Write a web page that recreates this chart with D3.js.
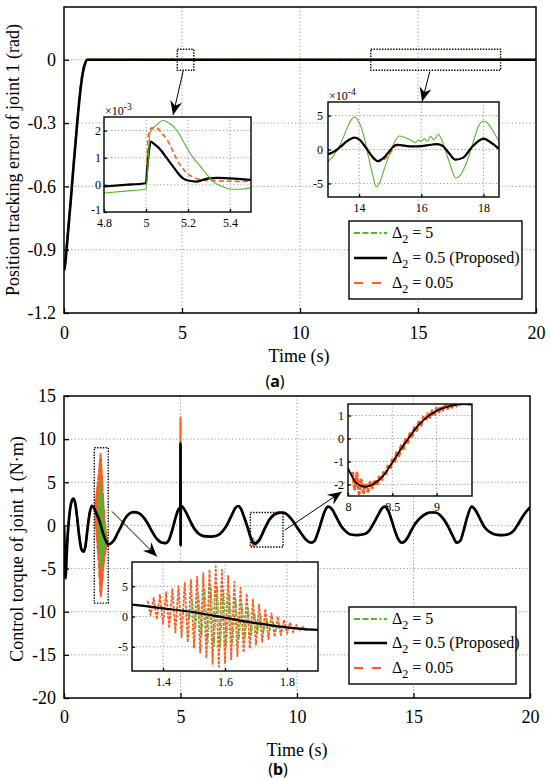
<!DOCTYPE html>
<html><head><meta charset="utf-8">
<script src="https://cdn.jsdelivr.net/npm/d3@7/dist/d3.min.js"></script>
<style>body{margin:0;background:#fff} svg text{font-family:"Liberation Serif","Tinos","Times New Roman","DejaVu Serif",serif;}</style>
</head><body>
<svg id="c" width="550" height="779" xmlns="http://www.w3.org/2000/svg"></svg>
<script>
// ---------------- DATA ----------------
const timeTicks = [0, 5, 10, 15, 20];
const errTicks = [0, -0.3, -0.6, -0.9, -1.2];
const torqueTicks = [15, 10, 5, 0, -5, -10, -15, -20];
const legendLabels = [["5", "green"], ["0.5 (Proposed)", "black"], ["0.05", "red"]];

// (a) main: position tracking error of joint 1 (rad)
const errBlack = [[0,-1.0],[0.05,-0.97],[0.1,-0.91],[0.2,-0.78],[0.3,-0.65],[0.4,-0.51],[0.5,-0.38],[0.6,-0.25],[0.7,-0.14],[0.8,-0.06],[0.9,-0.015],[1.0,0],[1.2,0],[20,0]];
const errGreen = [[0,-0.99],[0.05,-0.95],[0.1,-0.89],[0.2,-0.76],[0.3,-0.63],[0.4,-0.5],[0.5,-0.37],[0.6,-0.24],[0.7,-0.13],[0.8,-0.05],[0.9,-0.01],[1.0,0.002],[1.2,0.004],[1.5,0.001],[20,0]];
const errRed = [[0,-1.0],[0.05,-0.965],[0.1,-0.905],[0.2,-0.775],[0.3,-0.645],[0.4,-0.505],[0.5,-0.375],[0.6,-0.245],[0.7,-0.135],[0.8,-0.055],[0.9,-0.012],[1.0,0.001],[1.2,0],[20,0]];

// (a) inset 1, x10^-3, t in [4.8, 5.5]
const zoomA1Black = [[4.8,-0.06],[4.9,0.0],[5.0,0.06],[5.006,0.6],[5.015,1.3],[5.022,1.59],[5.04,1.5],[5.067,1.31],[5.09,1.08],[5.114,0.83],[5.14,0.56],[5.162,0.34],[5.18,0.22],[5.2,0.16],[5.24,0.12],[5.27,0.18],[5.3,0.24],[5.34,0.26],[5.38,0.25],[5.44,0.22],[5.5,0.18]];
const zoomA1Green = [[4.8,-0.3],[4.9,-0.23],[5.0,-0.15],[5.008,0.6],[5.02,1.92],[5.05,2.2],[5.08,2.37],[5.1,2.32],[5.13,2.16],[5.16,1.85],[5.19,1.43],[5.22,1.05],[5.257,0.7],[5.29,0.38],[5.32,0.12],[5.36,-0.05],[5.4,-0.15],[5.45,-0.16],[5.49,-0.12],[5.5,-0.1]];
const zoomA1Red = [[4.8,-0.06],[4.9,0.0],[5.0,0.06],[5.01,1.8],[5.027,2.1],[5.05,2.1],[5.075,1.9],[5.1,1.67],[5.125,1.3],[5.146,0.95],[5.17,0.65],[5.2,0.4],[5.23,0.27],[5.257,0.2],[5.33,0.15],[5.42,0.13],[5.5,0.12]];

// (a) inset 2, x10^-4, t in [13, 18.5]
const zoomA2Green = [[13.0,-1.8],[13.2,-0.8],[13.4,0.8],[13.6,3.0],[13.75,4.4],[13.85,4.8],[14.0,4.0],[14.15,2.0],[14.3,-1.0],[14.45,-4.0],[14.55,-5.5],[14.65,-5.0],[14.8,-3.0],[15.0,-0.5],[15.15,1.2],[15.3,2.0],[15.5,1.7],[15.7,1.3],[15.8,1.0],[15.9,1.4],[16.0,1.2],[16.1,1.6],[16.2,1.2],[16.3,2.0],[16.4,1.4],[16.55,2.2],[16.65,1.5],[16.8,-0.5],[16.95,-2.5],[17.1,-4.2],[17.25,-3.8],[17.45,-2.0],[17.65,0.8],[17.85,3.5],[18.0,4.2],[18.15,3.8],[18.3,2.8],[18.5,1.2]];
const zoomA2Black = [[13.0,-0.7],[13.2,-0.3],[13.4,0.4],[13.6,1.2],[13.85,1.75],[14.0,1.5],[14.2,0.4],[14.4,-0.9],[14.6,-1.7],[14.8,-1.2],[15.0,-0.1],[15.2,0.7],[15.4,0.6],[15.7,0.45],[16.0,0.5],[16.3,0.7],[16.5,0.8],[16.7,0.5],[16.9,-0.6],[17.1,-1.5],[17.35,-1.2],[17.6,0.2],[17.8,1.1],[18.0,1.6],[18.25,1.0],[18.5,0.1]];
const zoomA2Red = [[13.0,-0.75],[13.2,-0.4],[13.4,0.3],[13.6,1.1],[13.85,1.7],[14.0,1.45],[14.2,0.35],[14.4,-1.0],[14.6,-1.75],[14.8,-1.5],[15.0,-0.5],[15.2,0.55],[15.4,0.6],[15.7,0.45],[16.0,0.5],[16.3,0.7],[16.5,0.8],[16.7,0.5],[16.9,-0.6],[17.1,-1.5],[17.35,-1.2],[17.6,0.2],[17.8,1.1],[18.0,1.6],[18.25,1.0],[18.5,0.1]];

// (b) main: control torque of joint 1 (N·m), proposed controller
const torqueBlack = [[0,0],[0.03,-3.5],[0.07,-6.1],[0.1,-4.2],[0.15,-1.5],[0.22,0.9],[0.3,2.5],[0.4,3.1],[0.48,2.6],[0.56,1.0],[0.65,-1.2],[0.75,-2.8],[0.83,-3.05],[0.92,-2.4],[1.0,-0.6],[1.1,1.4],[1.2,2.28],[1.3,1.95],[1.4,1.35],[1.5,0.7],[1.6,-0.2],[1.7,-1.1],[1.8,-1.8],[1.9,-2.2],[2.0,-2.1],[2.15,-1.7],[2.3,-0.9],[2.45,-0.1],[2.6,0.7],[2.8,1.35],[3.0,1.55],[3.2,1.45],[3.4,1.0],[3.6,0.2],[3.8,-0.8],[4.0,-1.6],[4.2,-2.0],[4.36,-2.05],[4.5,-1.7],[4.65,-0.5],[4.8,1.0],[4.9,1.8],[4.995,2.15],[5.0,9.5],[5.006,-2.3],[5.012,2.15],[5.05,2.2],[5.2,1.7],[5.4,0.6],[5.6,-0.4],[5.8,-1.0],[6.0,-1.25],[6.3,-1.3],[6.6,-1.15],[6.8,-0.7],[7.0,0.1],[7.2,1.2],[7.35,2.0],[7.48,2.25],[7.6,1.9],[7.75,0.8],[7.9,-0.4],[8.0,-1.3],[8.1,-1.95],[8.2,-2.1],[8.3,-1.95],[8.4,-1.6],[8.5,-1.05],[8.6,-0.45],[8.7,0.1],[8.8,0.6],[8.9,0.95],[9.0,1.2],[9.1,1.35],[9.2,1.45],[9.3,1.5],[9.45,1.45],[9.6,1.2],[9.8,0.6],[10.0,-0.2],[10.2,-1.0],[10.4,-1.7],[10.6,-2.0],[10.75,-1.8],[10.9,-0.8],[11.05,0.5],[11.2,1.7],[11.34,2.17],[11.5,1.9],[11.7,0.9],[11.9,-0.1],[12.1,-0.7],[12.3,-1.05],[12.6,-1.12],[12.9,-1.0],[13.1,-0.6],[13.3,0.3],[13.5,1.3],[13.65,2.0],[13.78,2.17],[13.9,1.8],[14.05,0.7],[14.2,-0.6],[14.35,-1.6],[14.49,-2.0],[14.6,-1.9],[14.75,-1.4],[14.9,-0.6],[15.1,0.3],[15.3,0.9],[15.5,1.3],[15.7,1.5],[15.9,1.5],[16.1,1.3],[16.3,0.7],[16.5,-0.2],[16.7,-1.3],[16.85,-2.0],[17.0,-1.8],[17.15,-0.6],[17.3,0.9],[17.5,2.17],[17.65,1.8],[17.85,0.8],[18.05,-0.2],[18.3,-0.8],[18.6,-1.1],[18.85,-1.12],[19.1,-1.0],[19.3,-0.6],[19.5,0.2],[19.7,1.1],[19.9,1.8],[20,2.1]];

// chattering of Delta2 = 0.05 around t = 1.5 s
const redChatter = [[1.35,2.6],[1.36,0.24],[1.37,3.08],[1.38,-0.48],[1.39,3.56],[1.40,-1.2],[1.41,4.04],[1.42,-1.92],[1.43,4.52],[1.44,-2.64],[1.45,5.0],[1.46,-3.43],[1.47,5.54],[1.48,-4.24],[1.49,6.03],[1.50,-5.1],[1.51,6.57],[1.52,-5.96],[1.53,7.16],[1.54,-6.87],[1.55,7.7],[1.56,-7.8],[1.57,8.3],[1.58,-8.3],[1.59,7.7],[1.60,-7.8],[1.61,6.71],[1.62,-7.18],[1.63,5.73],[1.64,-6.56],[1.65,4.75],[1.66,-5.93],[1.67,3.79],[1.68,-5.29],[1.69,2.83],[1.70,-4.65],[1.71,1.98],[1.72,-4.19],[1.73,1.24],[1.74,-3.73],[1.75,0.5],[1.76,-3.36],[1.77,-0.02],[1.78,-3.08],[1.79,-0.54],[1.80,-2.8],[1.81,-0.99],[1.82,-2.58],[1.83,-1.37],[1.84,-2.36],[1.85,-1.7],[1.86,-2.23],[1.87,-2.05]];
// chattering of Delta2 = 5 around t = 1.5 s
const greenChatter = [[1.475,1.3],[1.485,-0.48],[1.495,2.54],[1.505,-1.94],[1.515,3.58],[1.525,-3.2],[1.535,4.42],[1.545,-4.26],[1.555,4.95],[1.565,-4.95],[1.575,4.95],[1.585,-5.05],[1.595,4.45],[1.605,-4.75],[1.615,3.66],[1.625,-4.33],[1.635,2.88],[1.645,-3.91],[1.655,2.11],[1.665,-3.47],[1.675,1.35],[1.685,-3.03],[1.695,0.69],[1.705,-2.78],[1.715,0.15],[1.725,-2.52],[1.735,-0.39],[1.745,-2.26],[1.755,-0.92],[1.765,-2.03],[1.775,-1.34],[1.785,-1.9],[1.795,-1.76]];
// Delta2 = 0.05 spike at t = 5 s
const redSpike = [[4.995,2.15],[5.0,12.5],[5.006,-2.3],[5.012,2.15]];
// Delta2 = 0.05 around t = 8-9.4 s
const redB2 = [[8.05,-1.45],[8.075,-2.2],[8.1,-1.5],[8.125,-2.4],[8.15,-1.8],[8.175,-2.35],[8.2,-1.95],[8.225,-2.3],[8.25,-1.9],[8.275,-2.15],[8.3,-1.8],[8.325,-2.05],[8.35,-1.68],[8.375,-1.85],[8.4,-1.48],[8.425,-1.62],[8.45,-1.2],[8.475,-1.32],[8.5,-0.92],[8.525,-1.05],[8.55,-0.62],[8.575,-0.75],[8.6,-0.32],[8.625,-0.45],[8.65,-0.04],[8.675,-0.17],[8.7,0.22],[8.725,0.1],[8.75,0.47],[8.775,0.35],[8.8,0.72],[8.825,0.58],[8.85,0.92],[8.875,0.78],[8.9,1.07],[8.925,0.92],[8.95,1.2],[8.975,1.05],[9.0,1.32],[9.025,1.16],[9.05,1.4],[9.075,1.24],[9.1,1.46],[9.125,1.3],[9.15,1.5],[9.175,1.36],[9.2,1.53],[9.225,1.42],[9.25,1.55],[9.275,1.45],[9.3,1.52]];

// ---------------- DRAWING ----------------
const SERIF = '"Liberation Serif", "Tinos", "Times New Roman", "DejaVu Serif", serif';
const SANS = '"Noto Sans", "DejaVu Sans", sans-serif';
const GREEN = "#57b32b", RED = "#ff5b1f", BLACK = "#000";
const DASH_RED = "5,3", DASH_GREEN = "5,2,1.5,2";
const svg = d3.select("#c");
const defs = svg.append("defs");
defs.append("marker").attr("id", "ah").attr("viewBox", "-15 -8 16 16")
  .attr("markerWidth", 16).attr("markerHeight", 16).attr("refX", 0).attr("refY", 0)
  .attr("orient", "auto").attr("markerUnits", "userSpaceOnUse")
  .append("path").attr("d", "M0,0 L-14,-6 L-9.5,0 L-14,6 Z").attr("fill", "#000");

function splice(base, seg) {
  const a = seg[0][0], b = seg[seg.length - 1][0];
  return base.filter(d => d[0] < a).concat(seg, base.filter(d => d[0] > b));
}
const fmt = d => String(d);
let clipN = 0;
function panel(g, x, y, o) {
  const [x0, x1] = x.range(), [y0, y1] = y.range();
  const id = "clip" + (clipN++);
  defs.append("clipPath").attr("id", id).append("rect")
    .attr("x", x0).attr("y", y1).attr("width", x1 - x0).attr("height", y0 - y1);
  if (o.bg) g.append("rect").attr("x", x0).attr("y", y1).attr("width", x1 - x0).attr("height", y0 - y1).attr("fill", "#fff");
  const grid = g.append("g").attr("stroke", "#8c8c8c").attr("stroke-width", 0.9).attr("stroke-dasharray", "1.2,2.3");
  o.xGrid.forEach(v => grid.append("line").attr("x1", x(v)).attr("x2", x(v)).attr("y1", y0).attr("y2", y1));
  o.yGrid.forEach(v => grid.append("line").attr("y1", y(v)).attr("y2", y(v)).attr("x1", x0).attr("x2", x1));
  const lg = g.append("g").attr("clip-path", `url(#${id})`);
  o.series.forEach(s => {
    lg.append("path").datum(s.data)
      .attr("d", d3.line().x(d => x(d[0])).y(d => y(d[1])).curve(s.curve || d3.curveMonotoneX))
      .attr("fill", "none").attr("stroke", s.color).attr("stroke-width", s.w)
      .attr("stroke-dasharray", s.dash || null).attr("stroke-linejoin", "round");
  });
  const ax = g.append("g").attr("transform", `translate(0,${y0})`)
    .call(d3.axisBottom(x).tickValues(o.xTicks).tickSize(-o.tick).tickPadding(o.xPad).tickFormat(o.xFmt || fmt));
  const ay = g.append("g").attr("transform", `translate(${x0},0)`)
    .call(d3.axisLeft(y).tickValues(o.yTicks).tickSize(-o.tick).tickPadding(o.yPad).tickFormat(o.yFmt || fmt));
  [ax, ay].forEach(a => {
    a.select(".domain").remove();
    a.selectAll("line").attr("stroke", "#000").attr("stroke-width", 1.3);
    a.selectAll("text").style("font-family", SERIF).style("font-size", o.fs + "px").attr("fill", "#000");
  });
  if (o.yShift) ay.selectAll(".tick text").filter(d => d === o.yShift[0]).attr("dy", o.yShift[1]);
  g.append("rect").attr("x", x0).attr("y", y1).attr("width", x1 - x0).attr("height", y0 - y1)
    .attr("fill", "none").attr("stroke", "#000").attr("stroke-width", o.bw);
}
function dotBox(g, x, y, xa, xb, ya, yb) {
  g.append("rect").attr("x", x(xa)).attr("y", y(yb)).attr("width", x(xb) - x(xa)).attr("height", y(ya) - y(yb))
    .attr("fill", "none").attr("stroke", "#000").attr("stroke-width", 1.4).attr("stroke-dasharray", "1.4,1.4");
}
function arrow(g, x, y, p, q) {
  g.append("line").attr("x1", x(p[0])).attr("y1", y(p[1])).attr("x2", x(q[0])).attr("y2", y(q[1]))
    .attr("stroke", "#000").attr("stroke-width", 1).attr("marker-end", "url(#ah)");
}
function legend(g, x0, y0, w, h, rows) {
  g.append("rect").attr("x", x0).attr("y", y0).attr("width", w).attr("height", h)
    .attr("fill", "#fff").attr("stroke", "#000").attr("stroke-width", 1.4);
  const sty = { green: [GREEN, 2, "6,2.5,6,2.5,6,2.5,2,2.5"], black: [BLACK, 2.6, null], red: [RED, 2, "9,9"] };
  legendLabels.forEach((lab, i) => {
    const yy = y0 + rows[i];
    const s = sty[lab[1]];
    g.append("line").attr("x1", x0 + 5).attr("x2", x0 + 38).attr("y1", yy).attr("y2", yy)
      .attr("stroke", s[0]).attr("stroke-width", s[1]).attr("stroke-dasharray", s[2]);
    const t = g.append("text").attr("x", x0 + 43).attr("y", yy + 5).style("font-family", SERIF).style("font-size", "16px");
    t.append("tspan").text("\u0394");
    t.append("tspan").attr("dy", 5).style("font-size", "12px").text("2");
    t.append("tspan").attr("dy", -5).text(" = " + lab[0]);
  });
}
function expLabel(g, xx, yy, p) {
  const t = g.append("text").attr("x", xx).attr("y", yy).style("font-family", SERIF).style("font-size", "12px");
  t.append("tspan").text("\u00d710");
  t.append("tspan").attr("dy", -5).style("font-size", "9.5px").text(p);
}

// ===== Panel (a) =====
const gA = svg.append("g");
const xA = d3.scaleLinear().domain([0, 20]).range([64, 536]);
const yA = d3.scaleLinear().domain([-1.2, 0.25]).range([313, 7]);
panel(gA, xA, yA, {
  xGrid: [5, 10, 15], yGrid: [0, -0.3, -0.6, -0.9], xTicks: timeTicks, yTicks: errTicks,
  tick: 5, xPad: 13, yPad: 8, fs: 18, bw: 1.5,
  series: [
    { data: errRed, color: RED, w: 2, dash: DASH_RED },
    { data: errGreen, color: GREEN, w: 2, dash: DASH_GREEN },
    { data: errBlack, color: BLACK, w: 2.6 }
  ]
});
dotBox(gA, xA, yA, 4.8, 5.5, -0.05, 0.05);
dotBox(gA, xA, yA, 13, 18.5, -0.05, 0.05);
arrow(gA, xA, yA, [5.05, -0.053], [4.62, -0.262]);
arrow(gA, xA, yA, [15.5, -0.056], [15.17, -0.198]);

const gA1 = svg.append("g");
const xA1 = d3.scaleLinear().domain([4.8, 5.5]).range([104, 251]);
const yA1 = d3.scaleLinear().domain([-1, 2.5]).range([212, 117]);
panel(gA1, xA1, yA1, {
  bg: true, xGrid: [5, 5.2, 5.4], yGrid: [0, 1, 2], xTicks: [4.8, 5, 5.2, 5.4], yTicks: [-1, 0, 1, 2],
  tick: 3, xPad: 6, yPad: 3, fs: 12, bw: 1.4, yShift: [-1, "0.1em"],
  series: [
    { data: zoomA1Red, color: RED, w: 1.6, dash: "5,3" },
    { data: zoomA1Black, color: BLACK, w: 2.2 },
    { data: zoomA1Green, color: GREEN, w: 1.1 }
  ]
});
expLabel(gA1, 105, 115, "-3");

const gA2 = svg.append("g");
const xA2 = d3.scaleLinear().domain([13, 18.5]).range([328, 499]);
const yA2 = d3.scaleLinear().domain([-7, 7]).range([197, 102]);
panel(gA2, xA2, yA2, {
  bg: true, xGrid: [14, 16, 18], yGrid: [-5, 0, 5], xTicks: [14, 16, 18], yTicks: [-5, 0, 5],
  tick: 3, xPad: 6.5, yPad: 5, fs: 12, bw: 1.4,
  series: [
    { data: zoomA2Green, color: GREEN, w: 1.1 },
    { data: zoomA2Red, color: RED, w: 1.6, dash: "5,3" },
    { data: zoomA2Black, color: BLACK, w: 2.2 }
  ]
});
expLabel(gA2, 329, 100, "-4");
legend(svg, 349, 221, 173, 78, [12, 37, 62]);

// ===== Panel (b) =====
const gB = svg.append("g");
const xB = d3.scaleLinear().domain([0, 20]).range([64, 530]);
const yB = d3.scaleLinear().domain([-20, 15]).range([698, 396]);
const torqueRed = splice(splice(splice(torqueBlack, redChatter), redSpike), redB2);
const torqueGreen = splice(torqueBlack, greenChatter);
panel(gB, xB, yB, {
  xGrid: [5, 10, 15], yGrid: [10, 5, 0, -5, -10, -15], xTicks: timeTicks, yTicks: torqueTicks,
  tick: 5, xPad: 12, yPad: 8, fs: 18, bw: 1.5,
  series: [
    { data: torqueRed, color: RED, w: 2.2, dash: DASH_RED },
    { data: torqueGreen, color: GREEN, w: 2, dash: DASH_GREEN },
    { data: torqueBlack, color: BLACK, w: 2.7 }
  ]
});
dotBox(gB, xB, yB, 1.3, 1.9, -9, 9);
dotBox(gB, xB, yB, 8, 9.4, -2.5, 1.5);
arrow(gB, xB, yB, [2.06, 1.62], [3.99, -3.6]);
arrow(gB, xB, yB, [9.48, -0.54], [11.92, 3.9]);

const gB1 = svg.append("g");
const xB1 = d3.scaleLinear().domain([1.3, 1.9]).range([132, 318]);
const yB1 = d3.scaleLinear().domain([-9, 9]).range([671, 562]);
panel(gB1, xB1, yB1, {
  bg: true, xGrid: [1.4, 1.6, 1.8], yGrid: [-5, 0, 5], xTicks: [1.4, 1.6, 1.8], yTicks: [-5, 0, 5],
  tick: 3, xPad: 6.5, yPad: 4, fs: 12, bw: 1.4,
  series: [
    { data: redChatter, color: RED, w: 1.8, dash: "3,1.2", curve: d3.curveLinear },
    { data: greenChatter, color: GREEN, w: 1.3, dash: "3,1.2,1,1.2", curve: d3.curveLinear },
    { data: torqueBlack.filter(d => d[0] >= 1.2 && d[0] <= 2.0), color: BLACK, w: 2.2 }
  ]
});

const gB2 = svg.append("g");
const xB2 = d3.scaleLinear().domain([8, 9.4]).range([348, 472]);
const yB2 = d3.scaleLinear().domain([-2.5, 1.5]).range([496, 404]);
panel(gB2, xB2, yB2, {
  bg: true, xGrid: [8.5, 9], yGrid: [-2, -1, 0, 1], xTicks: [8, 8.5, 9], yTicks: [-2, -1, 0, 1],
  tick: 3, xPad: 6.5, yPad: 4, fs: 12, bw: 1.4,
  series: [
    { data: redB2, color: RED, w: 3, dash: "5,1.5", curve: d3.curveLinear },
    { data: torqueBlack.filter(d => d[0] >= 7.9 && d[0] <= 9.6), color: BLACK, w: 1.8 }
  ]
});
legend(svg, 349, 607, 167, 77, [12, 36, 61]);

// ===== Labels =====
function txt(xx, yy, s, size, rot) {
  const t = svg.append("text").attr("x", xx).attr("y", yy).attr("text-anchor", "middle")
    .style("font-family", SERIF).style("font-size", size + "px").text(s);
  if (rot) t.attr("transform", `rotate(-90,${xx},${yy})`);
  return t;
}
txt(299, 362, "Time (s)", 18);
txt(297, 756, "Time (s)", 18);
txt(19, 160, "Position tracking error of joint 1 (rad)", 18, true);
txt(23, 549, "Control torque of joint 1 (N\u00b7m)", 18, true);
function subLabel(xx, yy, ch) {
  const t = svg.append("text").attr("x", xx).attr("y", yy).attr("text-anchor", "middle")
    .style("font-family", SANS).style("font-size", "16px");
  t.append("tspan").text("(");
  t.append("tspan").attr("font-weight", "bold").text(ch);
  t.append("tspan").text(")");
}
subLabel(275, 387, "a");
subLabel(278, 775, "b");
</script>
</body></html>
